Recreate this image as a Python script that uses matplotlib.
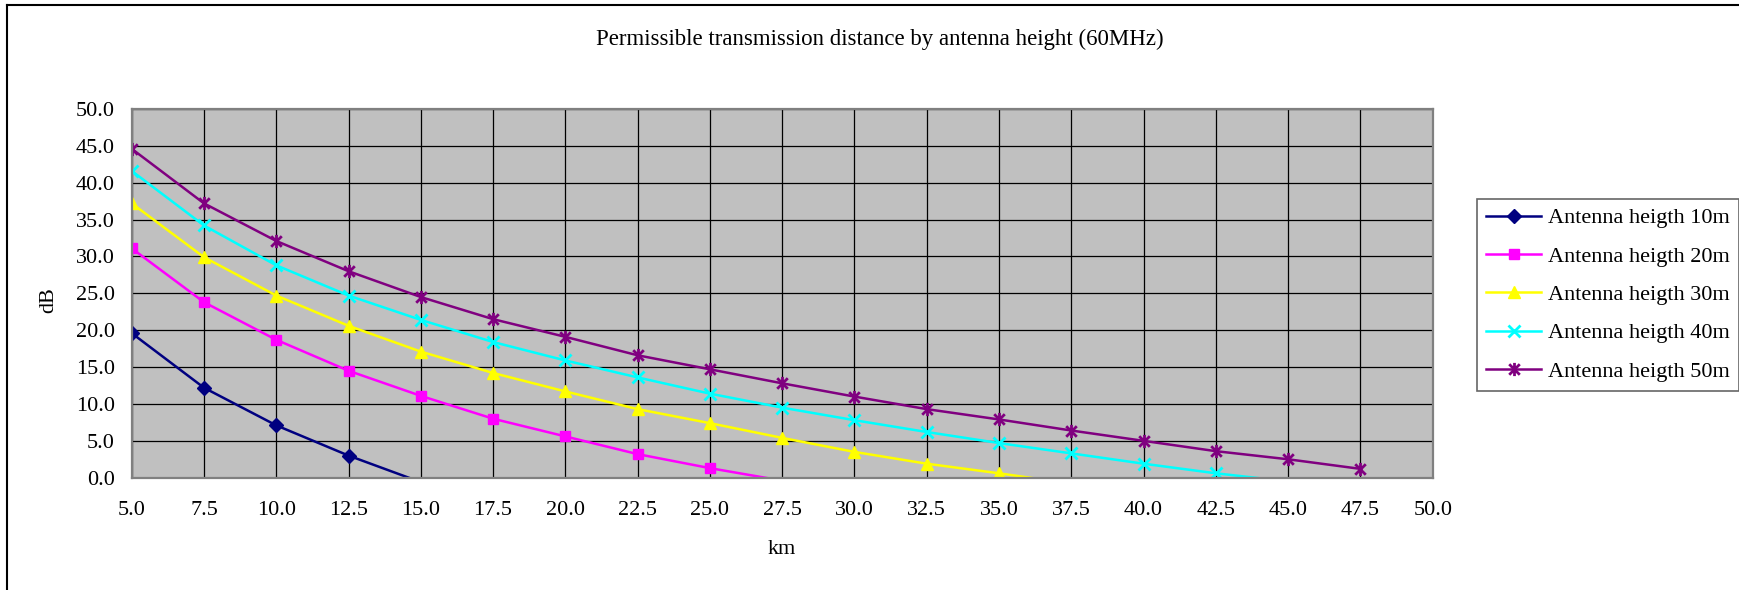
import matplotlib
matplotlib.use("Agg")
import matplotlib.pyplot as plt
from matplotlib.lines import Line2D
from matplotlib.path import Path

plt.rcParams['font.family'] = ['Liberation Serif', 'DejaVu Serif']

# distance (km) for each point
km = [5.0, 7.5, 10.0, 12.5, 15.0, 17.5, 20.0, 22.5, 25.0, 27.5,
      30.0, 32.5, 35.0, 37.5, 40.0, 42.5, 45.0, 47.5]

# dB values (last value of a series dips below 0)
h10 = [19.6, 12.2, 7.1, 3.0, -0.6]
h20 = [31.1, 23.8, 18.7, 14.5, 11.1, 8.0, 5.6, 3.2, 1.3, -0.4]
h30 = [37.2, 29.9, 24.7, 20.6, 17.1, 14.2, 11.7, 9.3, 7.4, 5.4,
       3.5, 1.9, 0.6, -0.8]
h40 = [41.6, 34.2, 28.8, 24.7, 21.4, 18.4, 15.9, 13.6, 11.4, 9.5,
       7.8, 6.2, 4.7, 3.3, 1.9, 0.6, -0.5]
h50 = [44.6, 37.2, 32.1, 28.0, 24.5, 21.5, 19.1, 16.6, 14.7, 12.8,
       11.0, 9.3, 7.9, 6.4, 5.0, 3.6, 2.5, 1.2]

labels = ['Antenna heigth 10m', 'Antenna heigth 20m', 'Antenna heigth 30m',
          'Antenna heigth 40m', 'Antenna heigth 50m']
xticks = [5.0 + 2.5 * i for i in range(19)]
yticks = [5.0 * i for i in range(11)]

# excel style asterisk marker: x plus vertical bar
star = Path([(0, -1), (0, 1), (-0.8, -0.8), (0.8, 0.8), (-0.8, 0.8), (0.8, -0.8)],
            [Path.MOVETO, Path.LINETO, Path.MOVETO, Path.LINETO, Path.MOVETO, Path.LINETO])

styles = [
    ('#000080', 'D', 7.5),
    ('#FF00FF', 's', 7.5),
    ('#FFFF00', '^', 9),
    ('#00FFFF', 'x', 8.5),
    ('#800080', star, 9.5),
]

fig = plt.figure(figsize=(17.4, 5.9), dpi=100)
ax = fig.add_axes([0.0757, 0.1903, 0.8234 - 0.0757, 0.8153 - 0.1903])
ax.set_facecolor('#C0C0C0')

for vals, lab, (col, mk, ms) in zip([h10, h20, h30, h40, h50], labels, styles):
    x = km[:len(vals)]
    ax.plot(x, vals, color=col, lw=1.8, marker=mk, markersize=ms,
            markeredgewidth=2 if mk == 'x' or mk is star else 1,
            markerfacecolor=col, markeredgecolor=col,
            markevery=[v >= 0 for v in vals], label=lab)

ax.set_xlim(5, 50)
ax.set_ylim(0, 50)
ax.set_xticks(xticks)
ax.set_yticks(yticks)
ax.set_xticklabels(['%.1f' % t for t in xticks])
ax.set_yticklabels(['%.1f' % t for t in yticks])
ax.tick_params(length=0, labelsize=16)
ax.tick_params(axis='y', pad=12)
ax.tick_params(axis='x', pad=17)
ax.grid(True, color='black', lw=0.9)
ax.set_axisbelow(True)
for s in ax.spines.values():
    s.set_color('#808080')
    s.set_linewidth(1.6)

fig.text(0.5057, 1 - 39 / 590, 'Permissible transmission distance by antenna height (60MHz)',
         ha='center', va='center', fontsize=16.5)
fig.text((131.7 + 1432.7) / 2 / 1740, 1 - 550 / 590, 'km', ha='center', va='center', fontsize=16)
fig.text(49 / 1740, 1 - 300 / 590, 'dB', ha='center', va='center', rotation=90, fontsize=16)

leg = fig.legend(loc='upper left', bbox_to_anchor=(1477 / 1740, 1 - 199 / 590),
                 fontsize=16, frameon=True, fancybox=False, handlelength=2.5,
                 handletextpad=0.3, labelspacing=0.8, borderpad=0.4,
                 borderaxespad=0)
leg.get_frame().set_edgecolor('#404040')
leg.get_frame().set_linewidth(1.2)

# outer chart frame (left and top edges visible)
fig.add_artist(Line2D([7 / 1740, 7 / 1740], [0, 1 - 5 / 590], color='black', lw=1.5))
fig.add_artist(Line2D([7 / 1740, 1], [1 - 5 / 590, 1 - 5 / 590], color='black', lw=1.5))

fig.savefig('out.png', dpi=100)
